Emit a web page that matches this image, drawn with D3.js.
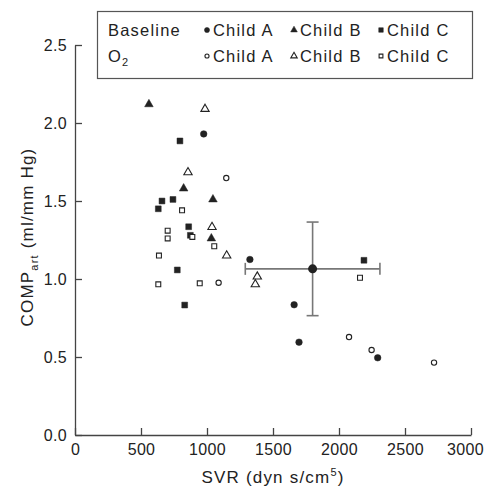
<!DOCTYPE html>
<html>
<head>
<meta charset="utf-8">
<script src="https://cdn.jsdelivr.net/npm/d3@7"></script>
<style>
  body { margin: 0; background: #fff; }
  text { font-family: "Liberation Sans", Arial, sans-serif; fill: #222; }
</style>
</head>
<body>
<div id="chart"></div>
<script>
// [SVR, COMPart] pairs
const baselineA = [[975, 1.93], [1325, 1.125], [1660, 0.835], [1697, 0.595], [2293, 0.495]]
const o2A = [[1146, 1.647], [1088, 0.976], [2076, 0.628], [2247, 0.545], [2720, 0.464]]
const baselineB = [[560, 2.12], [823, 1.58], [1045, 1.51], [1033, 1.26]]
const o2B = [[985, 2.09], [856, 1.684], [1038, 1.333], [1149, 1.15], [1381, 1.015], [1366, 0.966]]
const baselineC = [[795, 1.885], [659, 1.50], [742, 1.51], [631, 1.45], [861, 1.335], [874, 1.28], [775, 1.058], [831, 0.833], [2189, 1.12]]
const o2C = [[811, 1.44], [702, 1.31], [889, 1.27], [702, 1.26], [1055, 1.21], [636, 1.15], [631, 0.966], [945, 0.972], [2159, 1.008]]
// mean with SD
const meanPoint = {x: 1800, y: 1.065, xsd: 510, ysd: 0.30}
const xTicks = [0, 500, 1000, 1500, 2000, 2500, 3000]
const yTicks = [0, 0.5, 1.0, 1.5, 2.0, 2.5]

const W = 487, H = 489
const margin = {top: 45, right: 16, bottom: 54, left: 75}
const width = W - margin.left - margin.right
const height = H - margin.top - margin.bottom

const svg = d3.select("#chart").append("svg")
  .attr("width", W).attr("height", H)
const g = svg.append("g")
  .attr("transform", "translate(" + margin.left + "," + margin.top + ")")

const x = d3.scaleLinear().domain([0, 3000]).range([0, width])
const y = d3.scaleLinear().domain([0, 2.5]).range([height, 0])

const axisColor = "#444"

// axes, ticks pointing inward
const xAxis = g.append("g")
  .attr("transform", "translate(0," + height + ")")
  .call(d3.axisBottom(x).tickValues(xTicks).tickSize(-7).tickPadding(9).tickSizeOuter(0).tickFormat(d3.format("d")))
const yAxis = g.append("g")
  .call(d3.axisLeft(y).tickValues(yTicks).tickSize(-7).tickPadding(8).tickSizeOuter(0).tickFormat(d3.format(".1f")))
for (const a of [xAxis, yAxis]) {
  a.select(".domain").attr("stroke", axisColor).attr("stroke-width", 1.3)
  a.selectAll(".tick line").attr("stroke", axisColor).attr("stroke-width", 1.3)
  a.selectAll(".tick text").style("font-size", "16px").style("letter-spacing", "0.3px").attr("fill", "#222")
}
yAxis.selectAll(".tick text").attr("dy", "0.35em")
// keep the last x label inside the frame, as in the original
xAxis.selectAll(".tick text").filter(d => d === 3000).attr("dx", "-6")

// axis titles
svg.append("text")
  .attr("x", margin.left + width / 2).attr("y", 483)
  .attr("text-anchor", "middle").style("font-size", "17px").style("letter-spacing", "1.2px")
  .html('SVR (dyn s/cm<tspan dy="-7" style="font-size:11px">5</tspan><tspan dy="7">)</tspan>')
svg.append("text")
  .attr("transform", "translate(33," + (margin.top + height / 2 - 3) + ") rotate(-90)")
  .attr("text-anchor", "middle").style("font-size", "17px").style("letter-spacing", "1.2px")
  .html('COMP<tspan dy="5" style="font-size:11px">art</tspan><tspan dy="-5"> (ml/mm Hg)</tspan>')

// error bars
const eb = g.append("g").attr("stroke", "#777").attr("stroke-width", 1.6)
eb.append("line")
  .attr("x1", x(meanPoint.x - meanPoint.xsd)).attr("x2", x(meanPoint.x + meanPoint.xsd))
  .attr("y1", y(meanPoint.y)).attr("y2", y(meanPoint.y))
eb.append("line")
  .attr("x1", x(meanPoint.x)).attr("x2", x(meanPoint.x))
  .attr("y1", y(meanPoint.y - meanPoint.ysd)).attr("y2", y(meanPoint.y + meanPoint.ysd))
for (const xv of [meanPoint.x - meanPoint.xsd, meanPoint.x + meanPoint.xsd]) {
  eb.append("line").attr("x1", x(xv)).attr("x2", x(xv))
    .attr("y1", y(meanPoint.y) - 6).attr("y2", y(meanPoint.y) + 6)
}
for (const yv of [meanPoint.y - meanPoint.ysd, meanPoint.y + meanPoint.ysd]) {
  eb.append("line").attr("x1", x(meanPoint.x) - 6).attr("x2", x(meanPoint.x) + 6)
    .attr("y1", y(yv)).attr("y2", y(yv))
}

// symbols
function marker(sel, type, filled, size) {
  sel.append("path")
    .attr("d", d3.symbol().type(type).size(size))
    .attr("fill", filled ? "#222" : "#fff")
    .attr("stroke", "#222")
    .attr("stroke-width", filled ? 0.5 : 1.1)
}
const series = [
  {data: baselineA, type: d3.symbolCircle, filled: true, size: 34},
  {data: o2A, type: d3.symbolCircle, filled: false, size: 22},
  {data: baselineB, type: d3.symbolTriangle, filled: true, size: 32},
  {data: o2B, type: d3.symbolTriangle, filled: false, size: 30},
  {data: baselineC, type: d3.symbolSquare, filled: true, size: 34},
  {data: o2C, type: d3.symbolSquare, filled: false, size: 24}
]
for (const s of series) {
  g.selectAll(null).data(s.data).enter().append("g")
    .attr("transform", d => "translate(" + x(d[0]) + "," + y(d[1]) + ")")
    .each(function () { marker(d3.select(this), s.type, s.filled, s.size) })
}
// mean point
g.append("circle").attr("cx", x(meanPoint.x)).attr("cy", y(meanPoint.y))
  .attr("r", 4.5).attr("fill", "#222")

// legend
const lg = svg.append("g")
lg.append("rect").attr("x", 97.5).attr("y", 11.5).attr("width", 375).attr("height", 67)
  .attr("fill", "#fff").attr("stroke", "#555").attr("stroke-width", 1.2)
const legendRows = [
  {label: "Baseline", items: [series[0], series[2], series[4]]},
  {label: "O2", items: [series[1], series[3], series[5]]}
]
const legendNames = ["Child A", "Child B", "Child C"]
const colX = [207, 294, 381]
legendRows.forEach((row, i) => {
  const base = 36 + i * 26
  const t = lg.append("text").attr("x", 108).attr("y", base)
    .style("font-size", "16.5px").style("letter-spacing", "1.2px")
  if (row.label === "O2") {
    t.html('O<tspan dy="4" style="font-size:11px">2</tspan>')
  } else {
    t.text(row.label)
  }
  row.items.forEach((s, j) => {
    const mg = lg.append("g").attr("transform", "translate(" + colX[j] + "," + (base - 6) + ")")
    marker(mg, s.type, s.filled, s.size * 0.6)
    lg.append("text").attr("x", colX[j] + 6).attr("y", base)
      .style("font-size", "16.5px").style("letter-spacing", "1.2px").text(legendNames[j])
  })
})
</script>
</body>
</html>
